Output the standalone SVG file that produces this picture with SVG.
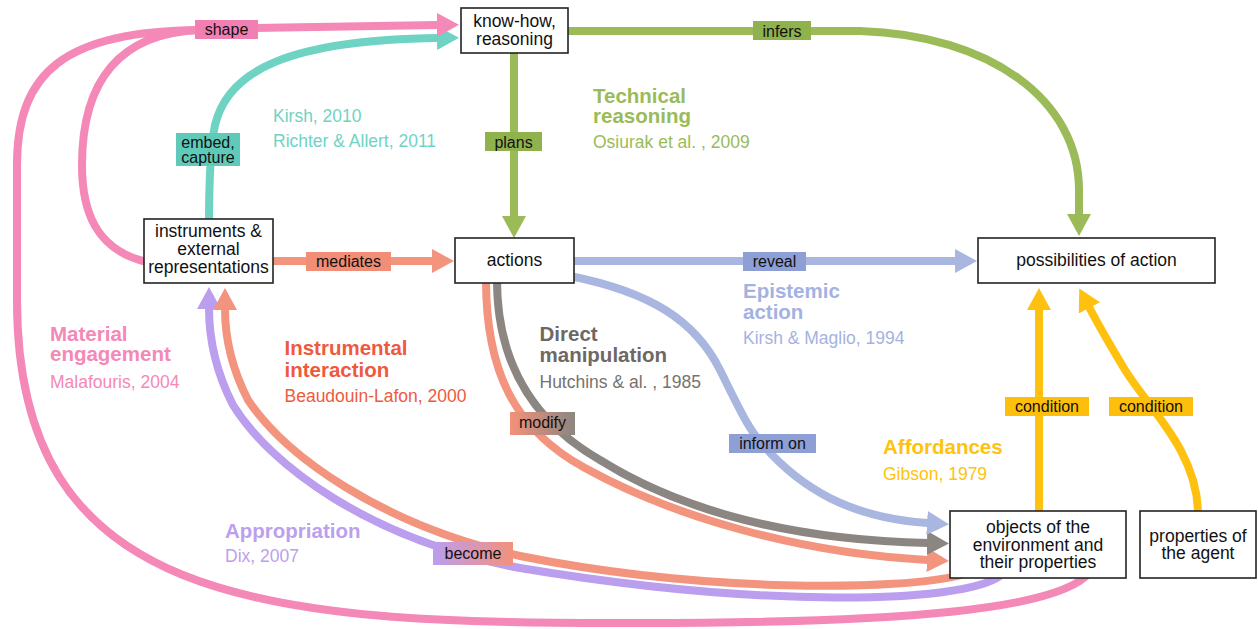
<svg xmlns="http://www.w3.org/2000/svg" width="1258" height="629" viewBox="0 0 1258 629">
<style>
text{font-family:"Liberation Sans",Arial,sans-serif}
.node rect{fill:#fff;stroke:#222;stroke-width:1.6}
.node text{font-size:17.5px;fill:#111;text-anchor:middle}
.c{fill:none;stroke-width:8}
.lbl text{font-size:16px;fill:#111;text-anchor:middle}
.h{font-size:20.5px;font-weight:bold}
.cit{font-size:17.5px}
</style>
<defs>
<marker id="a-pink" markerUnits="userSpaceOnUse" markerWidth="22" markerHeight="24" viewBox="0 0 22 24" refX="1" refY="12" orient="auto"><path d="M0,0 L22,12 L0,24 z" fill="#f488b6"/></marker>
<marker id="a-teal" markerUnits="userSpaceOnUse" markerWidth="22" markerHeight="24" viewBox="0 0 22 24" refX="1" refY="12" orient="auto"><path d="M0,0 L22,12 L0,24 z" fill="#6fd3c3"/></marker>
<marker id="a-green" markerUnits="userSpaceOnUse" markerWidth="22" markerHeight="24" viewBox="0 0 22 24" refX="1" refY="12" orient="auto"><path d="M0,0 L22,12 L0,24 z" fill="#9bbb59"/></marker>
<marker id="a-salmon" markerUnits="userSpaceOnUse" markerWidth="22" markerHeight="24" viewBox="0 0 22 24" refX="1" refY="12" orient="auto"><path d="M0,0 L22,12 L0,24 z" fill="#f3957e"/></marker>
<marker id="a-blue" markerUnits="userSpaceOnUse" markerWidth="22" markerHeight="24" viewBox="0 0 22 24" refX="1" refY="12" orient="auto"><path d="M0,0 L22,12 L0,24 z" fill="#a9b6e0"/></marker>
<marker id="a-gray" markerUnits="userSpaceOnUse" markerWidth="22" markerHeight="24" viewBox="0 0 22 24" refX="1" refY="12" orient="auto"><path d="M0,0 L22,12 L0,24 z" fill="#8c8682"/></marker>
<marker id="a-purple" markerUnits="userSpaceOnUse" markerWidth="22" markerHeight="24" viewBox="0 0 22 24" refX="1" refY="12" orient="auto"><path d="M0,0 L22,12 L0,24 z" fill="#bb9eee"/></marker>
<marker id="a-yellow" markerUnits="userSpaceOnUse" markerWidth="22" markerHeight="24" viewBox="0 0 22 24" refX="1" refY="12" orient="auto"><path d="M0,0 L22,12 L0,24 z" fill="#fec10f"/></marker>
<linearGradient id="g-modify" x1="0" y1="0" x2="1" y2="0"><stop offset="0" stop-color="#f3917a"/><stop offset="1" stop-color="#8c8682"/></linearGradient>
<linearGradient id="g-become" x1="0" y1="0" x2="1" y2="0"><stop offset="0" stop-color="#bb9eee"/><stop offset="1" stop-color="#f3917a"/></linearGradient>
</defs>
<rect width="1258" height="629" fill="#fff"/>

<g id="connectors">
  <path class="c" stroke="#f488b6" d="M1090 572 C1060 610 900 623 640 623 C250 625 17 600 17 300 L17 165 C17 72 65 31 200 30"/>
  <path class="c" stroke="#bb9eee" marker-end="url(#a-purple)" d="M1000 576 C960 604 760 608 520 568 C370 540 270 465 233 405 C215 370 209 338 209 308"/>
  <path class="c" stroke="#f3957e" marker-end="url(#a-salmon)" d="M965 574 C900 592 700 592 520 556 C380 525 285 455 248 400 C230 365 225 335 225 309"/>
  <path class="c" stroke="#f3957e" marker-end="url(#a-salmon)" d="M486 280 C486 372 515 430 585 468 C670 515 795 553 928 560"/>
  <path class="c" stroke="#8c8682" marker-end="url(#a-gray)" d="M497 280 C497 360 530 420 600 460 C680 510 790 540 928 543"/>
  <path class="c" stroke="#a9b6e0" marker-end="url(#a-blue)" d="M570 276 C650 292 695 320 720 370 C740 410 748 428 762 444 C800 488 850 518 928 523"/>
  <path class="c" stroke="#a9b6e0" marker-end="url(#a-blue)" d="M574 261 L956 261"/>
  <path class="c" stroke="#f3957e" marker-end="url(#a-salmon)" d="M270 261 L433 261"/>
  <path class="c" stroke="#9bbb59" marker-end="url(#a-green)" d="M514 53 L514 217"/>
  <path class="c" stroke="#9bbb59" marker-end="url(#a-green)" d="M568 31 L860 31 C990 35 1079 100 1079 190 L1079 215"/>
  <path class="c" stroke="#6fd3c3" marker-end="url(#a-teal)" d="M209 222 C209 180 210 150 215 125 C228 70 290 40 438 38"/>
  <path class="c" stroke="#f488b6" d="M147 262 C95 250 82 210 82 165 C82 80 120 33 200 30"/>
  <path class="c" stroke="#f488b6" marker-end="url(#a-pink)" d="M200 29 L438 25"/>
  <path class="c" stroke="#fec10f" marker-end="url(#a-yellow)" d="M1039 511 L1039 309"/>
  <path class="c" stroke="#fec10f" marker-end="url(#a-yellow)" d="M1198 511 C1196 450 1150 410 1125 370 C1110 345 1100 328 1089 307"/>

  <g class="lbl">
    <rect x="195" y="20" width="63" height="19" fill="#f27fb2"/><text x="226.5" y="35">shape</text>
    <rect x="176" y="133" width="64" height="33" fill="#5fcab9"/><text x="208" y="147.5">embed,</text><text x="208" y="162.5">capture</text>
    <rect x="485" y="132" width="57" height="19" fill="#8fb24c"/><text x="513.5" y="148">plans</text>
    <rect x="306" y="252" width="85" height="19" fill="#f28d76"/><text x="348.5" y="266.5">mediates</text>
    <rect x="753" y="21" width="58" height="19" fill="#8fb24c"/><text x="782" y="36.5">infers</text>
    <rect x="743" y="252" width="63" height="19" fill="#8e9fd6"/><text x="774.5" y="266.5">reveal</text>
    <rect x="510" y="412" width="65" height="23" fill="url(#g-modify)"/><text x="542.5" y="428">modify</text>
    <rect x="729" y="434" width="87" height="19" fill="#8e9fd6"/><text x="772.5" y="449">inform on</text>
    <rect x="433" y="542" width="80" height="23" fill="url(#g-become)"/><text x="473" y="559">become</text>
    <rect x="1005" y="397" width="84" height="19" fill="#fdbf0c"/><text x="1047" y="412">condition</text>
    <rect x="1109" y="397" width="84" height="19" fill="#fdbf0c"/><text x="1151" y="412">condition</text>
  </g>
</g>

<g id="node-knowhow" class="node"><rect x="461" y="8" width="107" height="45"/><text x="514.5" y="26.5">know-how,</text><text x="514.5" y="44.5">reasoning</text></g>
<g id="node-instruments" class="node"><rect x="144" y="219" width="129" height="64"/><text x="208.5" y="237">instruments &amp;</text><text x="208.5" y="255">external</text><text x="208.5" y="273">representations</text></g>
<g id="node-actions" class="node"><rect x="455" y="238" width="119" height="45"/><text x="514.5" y="265.5">actions</text></g>
<g id="node-possibilities" class="node"><rect x="978" y="238" width="237" height="45"/><text x="1096.5" y="266">possibilities of action</text></g>
<g id="node-objects" class="node"><rect x="950" y="511" width="176" height="67"/><text x="1038" y="533">objects of the</text><text x="1038" y="550.5">environment and</text><text x="1038" y="568">their properties</text></g>
<g id="node-agent" class="node"><rect x="1140" y="511" width="116" height="67"/><text x="1198" y="542">properties of</text><text x="1198" y="559">the agent</text></g>

<g id="theories">
  <text class="h" x="593" y="103" fill="#9bbb59">Technical</text>
  <text class="h" x="593" y="123" fill="#9bbb59">reasoning</text>
  <text class="cit" x="593" y="148" fill="#9bbb59">Osiurak et al. , 2009</text>
  <text class="cit" x="273" y="122" fill="#6fd3c3">Kirsh, 2010</text>
  <text class="cit" x="273" y="146.5" fill="#6fd3c3">Richter &amp; Allert, 2011</text>
  <text class="h" x="743" y="298" fill="#a4b2e2">Epistemic</text>
  <text class="h" x="743" y="318.5" fill="#a4b2e2">action</text>
  <text class="cit" x="743" y="343.5" fill="#a4b2e2">Kirsh &amp; Maglio, 1994</text>
  <text class="h" x="539.5" y="341" fill="#6e6865">Direct</text>
  <text class="h" x="539.5" y="361.5" fill="#6e6865">manipulation</text>
  <text class="cit" x="539.5" y="387.5" fill="#77726f">Hutchins &amp; al. , 1985</text>
  <text class="h" x="50" y="341" fill="#f488b6">Material</text>
  <text class="h" x="50" y="361" fill="#f488b6">engagement</text>
  <text class="cit" x="50" y="387.5" fill="#f488b6">Malafouris, 2004</text>
  <text class="h" x="284.5" y="355" fill="#ee5a3c">Instrumental</text>
  <text class="h" x="284.5" y="376.5" fill="#ee5a3c">interaction</text>
  <text class="cit" x="284.5" y="401.5" fill="#ee5a3c">Beaudouin-Lafon, 2000</text>
  <text class="h" x="225" y="537.5" fill="#bca0ee">Appropriation</text>
  <text class="cit" x="225" y="562" fill="#bca0ee">Dix, 2007</text>
  <text class="h" x="883" y="454" fill="#ffc20e">Affordances</text>
  <text class="cit" x="883" y="480" fill="#ffc20e">Gibson, 1979</text>
</g>
</svg>
